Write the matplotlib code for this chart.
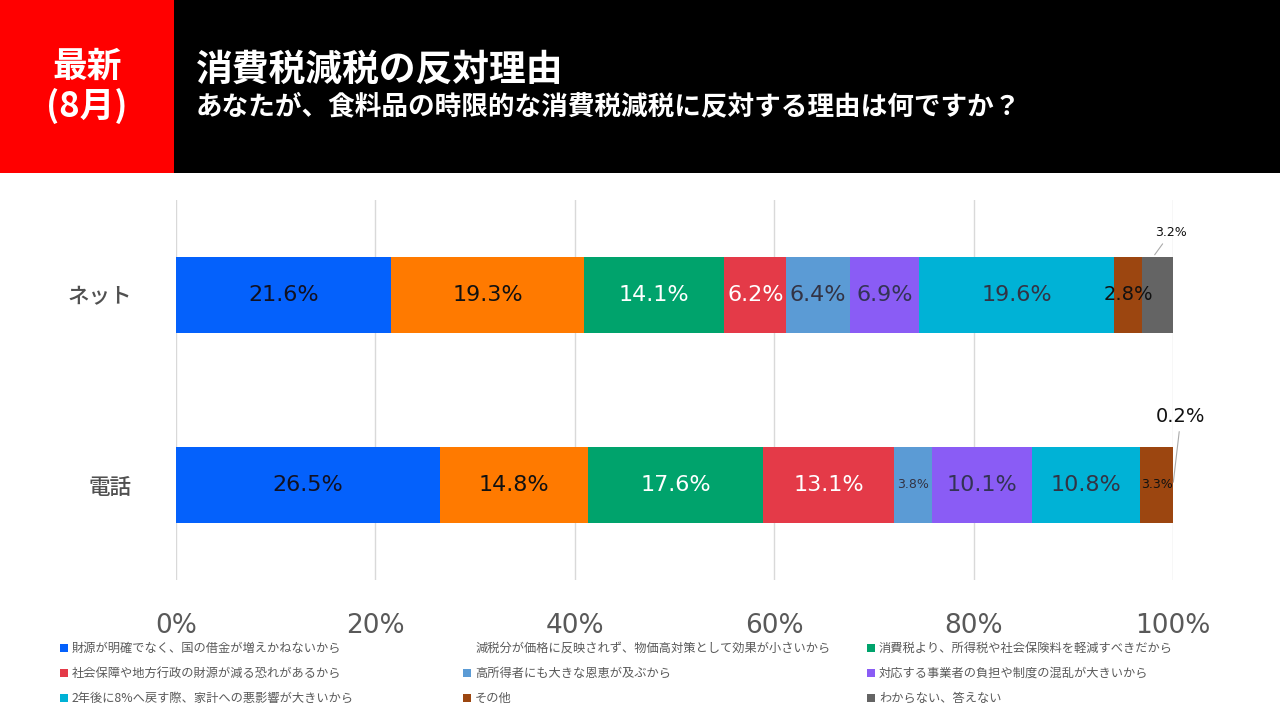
import matplotlib
matplotlib.use("Agg")
import matplotlib.pyplot as plt
from matplotlib.patches import Rectangle
import numpy as np

plt.rcParams['font.family'] = ['Noto Sans CJK JP', 'DejaVu Sans']

categories = ["電話", "ネット"]
series_names = [
    "財源が明確でなく、国の借金が増えかねないから",
    "減税分が価格に反映されず、物価高対策として効果が小さいから",
    "消費税より、所得税や社会保険料を軽減すべきだから",
    "社会保障や地方行政の財源が減る恐れがあるから",
    "高所得者にも大きな恩恵が及ぶから",
    "対応する事業者の負担や制度の混乱が大きいから",
    "2年後に8%へ戻す際、家計への悪影響が大きいから",
    "その他",
    "わからない、答えない",
]
# values per series: [電話, ネット]
values = [
    [26.5, 21.6],
    [14.8, 19.3],
    [17.6, 14.1],
    [13.1, 6.2],
    [3.8, 6.4],
    [10.1, 6.9],
    [10.8, 19.6],
    [3.3, 2.8],
    [0.2, 3.2],
]
colors = ["#0461FC", "#FF7A00", "#00A36C", "#E43A48", "#5B9BD5",
          "#8A5CF5", "#00B2D6", "#9C4610", "#646464"]
label_colors = ["#111122", "#111111", "#FFFFFF", "#FFFFFF", "#333344",
                "#333355", "#333344", "#111111", "#111111"]
# label font sizes per series: [電話, ネット]; None = label placed outside
label_sizes = [
    [16, 16], [16, 16], [16, 16], [16, 16], [9, 16],
    [16, 16], [16, 16], [9, 14], [None, None],
]
xticks = [0, 20, 40, 60, 80, 100]
xtick_labels = ["0%", "20%", "40%", "60%", "80%", "100%"]

fig = plt.figure(figsize=(12.8, 7.2), dpi=100)
fig.patch.set_facecolor("white")

# Header
fig.patches.append(Rectangle((0, 1 - 173/720), 1, 173/720, transform=fig.transFigure,
                             facecolor="black", edgecolor="none", zorder=0))
fig.patches.append(Rectangle((0, 1 - 173/720), 174/1280, 173/720, transform=fig.transFigure,
                             facecolor="#FF0000", edgecolor="none", zorder=1))
fig.text(87/1280, 1 - 66/720, "最新", color="white", fontsize=25, fontweight="bold",
         ha="center", va="center")
fig.text(87/1280, 1 - 106/720, "(8月)", color="white", fontsize=25, fontweight="bold",
         ha="center", va="center")
fig.text(196/1280, 1 - 70/720, "消費税減税の反対理由", color="white", fontsize=26.5,
         fontweight="bold", ha="left", va="center")
fig.text(196/1280, 1 - 107/720, "あなたが、食料品の時限的な消費税減税に反対する理由は何ですか？",
         color="white", fontsize=19.2, fontweight="bold", ha="left", va="center")

ax = fig.add_axes([176/1280, 1 - 580/720, 997/1280, 380/720])
y = np.arange(len(categories))
left = np.zeros(len(categories))
for i, (name, vals) in enumerate(zip(series_names, values)):
    vals = np.array(vals)
    ax.barh(y, vals, left=left, height=0.4, color=colors[i], label=name, zorder=2)
    for j, v in enumerate(vals):
        fs = label_sizes[i][j]
        if fs is None:
            continue
        ax.text(left[j] + v / 2, y[j], f"{v:.1f}%", ha="center", va="center",
                fontsize=fs, color=label_colors[i], family="DejaVu Sans", zorder=3)
    left = left + vals

# small outside labels for last series
tot_net = sum(v[1] for v in values)
tot_tel = sum(v[0] for v in values)
v_net = values[8][1]
v_tel = values[8][0]
ax.annotate(f"{v_net:.1f}%", xy=(tot_net - v_net / 2 - 0.5, 1 + 0.2),
            xytext=(tot_net - 0.3, 1.33), ha="center", va="center", fontsize=9,
            family="DejaVu Sans", color="#111111",
            arrowprops=dict(arrowstyle="-", color="#AAAAAA", lw=0.8), annotation_clip=False)
ax.annotate(f"{v_tel:.1f}%", xy=(tot_tel - v_tel / 2 - 0.1, 0),
            xytext=(tot_tel + 0.6, 0.36), ha="center", va="center", fontsize=14,
            family="DejaVu Sans", color="#111111",
            arrowprops=dict(arrowstyle="-", color="#AAAAAA", lw=0.8), annotation_clip=False)

ax.set_xlim(0, 100)
ax.set_ylim(-0.5, 1.5)
ax.set_xticks(xticks)
ax.set_xticklabels(xtick_labels, fontsize=19, color="#595959", family="DejaVu Sans")
ax.set_yticks(y)
ax.set_yticklabels(categories, fontsize=15.5, color="#505050", fontweight="medium")
ax.tick_params(axis="both", length=0)
ax.tick_params(axis="x", pad=24)
ax.tick_params(axis="y", pad=32)
ax.grid(axis="x", color="#D9D9D9", lw=1, zorder=0)
for s in ax.spines.values():
    s.set_visible(False)

# Legend (row-major, 3 columns)
col_x = [60, 463, 867]
row_y = [648, 673, 698]
for k, name in enumerate(series_names):
    r, c = divmod(k, 3)
    xm = col_x[c] / 1280
    ym = 1 - row_y[r] / 720
    if k != 1:
        fig.patches.append(Rectangle((xm, ym - 4/720), 8/1280, 8/720,
                                     transform=fig.transFigure, facecolor=colors[k],
                                     edgecolor="none"))
    fig.text(xm + 12/1280, ym, name, fontsize=8.8, color="#595959", ha="left", va="center")

fig.savefig("out.png", dpi=100)
